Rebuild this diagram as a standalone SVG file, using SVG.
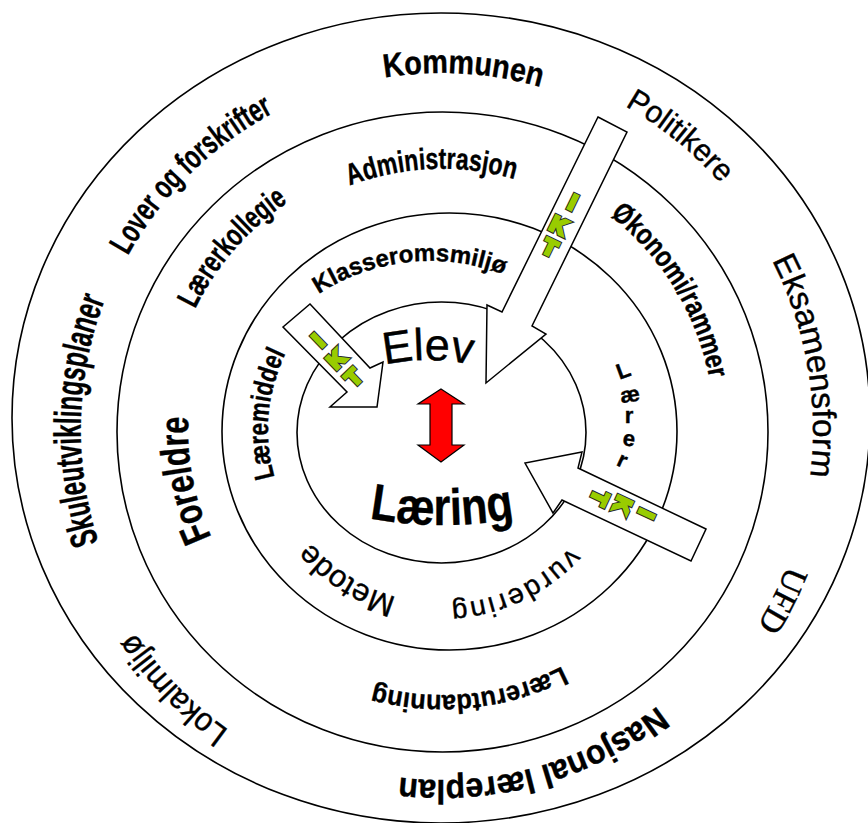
<svg xmlns="http://www.w3.org/2000/svg" xmlns:xlink="http://www.w3.org/1999/xlink" width="868" height="823" viewBox="0 0 868 823">
  <style>
    .ring{fill:none;stroke:#000;stroke-width:1.6}
    .t{font-family:"Liberation Sans",Arial,sans-serif;fill:#000;stroke:#000;stroke-width:0.4;text-anchor:middle}
    .b{font-weight:bold}
    .serif{font-family:"Liberation Serif","Times New Roman",serif}
    .blk{fill:#fff;stroke:#000;stroke-width:1.5;stroke-linejoin:miter}
    .ikt{font-family:"Liberation Sans",Arial,sans-serif;font-weight:bold;font-size:22px;text-anchor:middle;stroke-linejoin:miter}
    .ikt-o{fill:#2a2a2a;stroke:#2a2a2a;stroke-width:5}
    .ikt-f{fill:#99cc00;stroke:#99cc00;stroke-width:3}
    .ler{font-family:"Liberation Sans",Arial,sans-serif;font-weight:bold;font-size:22px;text-anchor:middle;stroke:#000;stroke-width:0.4}
  </style>
  <defs>
    <!-- baseline arcs for the curved labels (clockwise, tops facing outward) -->
    <path id="p-kommunen" d="M94.7,347.3 A357,357 0 0 1 796.6,389.0"/>
    <path id="p-politikere" d="M197.9,149.3 A372,372 0 0 1 767.4,610.3"/>
    <path id="p-eksamen" d="M442,59 A371,371 0 0 1 568.9,778.6"/>
    <path id="p-ufd" d="M663.2,132.2 A371,371 0 0 1 336.0,785.5"/>
    <path id="p-nasjonal" d="M790.4,396.5 A350,350 0 0 1 126.1,580.7"/>
    <path id="p-lokal" d="M647.8,735.1 A368,368 0 0 1 144.3,213.7"/>
    <path id="p-skule" d="M370.4,784.6 A362,362 0 0 1 389.1,71.9"/>
    <path id="p-lover" d="M146.1,633.3 A359,359 0 0 1 650.5,137.7"/>
    <path id="p-admin" d="M183.3,395.0 A261,261 0 0 1 697.0,374.4"/>
    <path id="p-okonomi" d="M342.7,176.7 A272,272 0 0 1 621.9,634.0"/>
    <path id="p-laerutd" d="M706.4,448.5 A265,265 0 0 1 187.3,503.0"/>
    <path id="p-foreldre" d="M446.4,684.0 A254,254 0 0 1 351.0,192.9"/>
    <path id="p-kollegie" d="M228.3,603.1 A275,275 0 0 1 583.6,194.3"/>
    <path id="p-klasse" d="M226.5,450.8 A204,204 0 0 1 626.1,408.8"/>
    <path id="p-vurdering" d="M609.8,384.1 A174,174 0 0 1 300.0,530.6"/>
    <path id="p-metode" d="M570.0,546.4 A173,173 0 0 1 281.9,364.3"/>
    <path id="p-middel" d="M396.4,597.9 A174,174 0 0 1 427.4,256.6"/>
    <path id="p-elev" d="M228,560 A200,200 0 0 1 628,560"/>
    <path id="p-laering" d="M242,471.4 A400,400 0 0 0 642,471.4"/>
  </defs>

  <rect width="868" height="823" fill="#fff"/>

  <!-- concentric rings -->
  <g id="rings">
    <ellipse class="ring" cx="441" cy="418" rx="429" ry="405"/>
    <ellipse class="ring" cx="442.5" cy="432" rx="325.5" ry="320"/>
    <ellipse class="ring" cx="449.5" cy="431.5" rx="227.5" ry="218.5"/>
    <ellipse class="ring" cx="441.5" cy="432.5" rx="144.5" ry="130.5"/>
  </g>

  <!-- outer ring -->
  <g id="kommunen"><text class="t b" font-size="33"><textPath xlink:href="#p-kommunen" startOffset="50%" textLength="158" lengthAdjust="spacingAndGlyphs">Kommunen</textPath></text></g>
  <g id="politikere"><text class="t" font-size="31"><textPath xlink:href="#p-politikere" startOffset="50%" textLength="124" lengthAdjust="spacingAndGlyphs">Politikere</textPath></text></g>
  <g id="eksamensform"><text class="t" font-size="33"><textPath xlink:href="#p-eksamen" startOffset="50%" textLength="223" lengthAdjust="spacingAndGlyphs">Eksamensform</textPath></text></g>
  <g id="ufd"><text class="t serif" font-size="34"><textPath xlink:href="#p-ufd" startOffset="50%" textLength="68" lengthAdjust="spacingAndGlyphs">UFD</textPath></text></g>
  <g id="nasjonal-laereplan"><text class="t b" font-size="34"><textPath xlink:href="#p-nasjonal" startOffset="50%" textLength="275" lengthAdjust="spacingAndGlyphs">Nasjonal læreplan</textPath></text></g>
  <g id="lokalmiljo"><text class="t" font-size="33"><textPath xlink:href="#p-lokal" startOffset="50%" textLength="137" lengthAdjust="spacingAndGlyphs">Lokalmiljø</textPath></text></g>
  <g id="skuleutviklingsplaner"><text class="t b" font-size="38"><textPath xlink:href="#p-skule" startOffset="50%" textLength="248" lengthAdjust="spacingAndGlyphs">Skuleutviklingsplaner</textPath></text></g>
  <g id="lover-og-forskrifter"><text class="t b" font-size="33"><textPath xlink:href="#p-lover" startOffset="50%" textLength="207" lengthAdjust="spacingAndGlyphs">Lover og forskrifter</textPath></text></g>

  <!-- second ring -->
  <g id="administrasjon"><text class="t b" font-size="30"><textPath xlink:href="#p-admin" startOffset="50%" textLength="168" lengthAdjust="spacingAndGlyphs">Administrasjon</textPath></text></g>
  <g id="okonomi-rammer"><text class="t b" font-size="29"><textPath xlink:href="#p-okonomi" startOffset="50%" textLength="195" lengthAdjust="spacingAndGlyphs">Økonomi/rammer</textPath></text></g>
  <g id="laererutdanning"><text class="t b" font-size="27"><textPath xlink:href="#p-laerutd" startOffset="50%" textLength="194" lengthAdjust="spacingAndGlyphs">Lærerutdanning</textPath></text></g>
  <g id="foreldre"><text class="t b" font-size="40"><textPath xlink:href="#p-foreldre" startOffset="50%" textLength="124" lengthAdjust="spacingAndGlyphs">Foreldre</textPath></text></g>
  <g id="laererkollegie"><text class="t b" font-size="31"><textPath xlink:href="#p-kollegie" startOffset="50%" textLength="143" lengthAdjust="spacingAndGlyphs">Lærerkollegie</textPath></text></g>

  <!-- inner ring -->
  <g id="klasseromsmiljo"><text class="t b" font-size="24"><textPath xlink:href="#p-klasse" startOffset="50%" textLength="193" lengthAdjust="spacing">Klasseromsmiljø</textPath></text></g>
  <g id="vurdering"><text class="t" font-size="28"><textPath xlink:href="#p-vurdering" startOffset="50%" textLength="135" lengthAdjust="spacing">vurdering</textPath></text></g>
  <g id="metode"><text class="t" font-size="31"><textPath xlink:href="#p-metode" startOffset="50%">Metode</textPath></text></g>
  <g id="laeremiddel"><text class="t b" font-size="28"><textPath xlink:href="#p-middel" startOffset="50%" textLength="127" lengthAdjust="spacingAndGlyphs">Læremiddel</textPath></text></g>
  <g id="laerer">
    <text class="ler" transform="translate(623,370) rotate(-20)" y="8">L</text>
    <text class="ler" transform="translate(630,396) rotate(-8)" y="6">æ</text>
    <text class="ler" transform="translate(629,417) rotate(0)" y="6">r</text>
    <text class="ler" transform="translate(629,440) rotate(8)" y="6">e</text>
    <text class="ler" transform="translate(622,461) rotate(25)" y="6">r</text>
  </g>

  <!-- centre -->
  <g id="elev"><text class="t" font-size="45"><textPath xlink:href="#p-elev" startOffset="50%">Elev</textPath></text></g>
  <g id="laering"><text class="t b" font-size="51"><textPath xlink:href="#p-laering" startOffset="50%" textLength="146" lengthAdjust="spacingAndGlyphs">Læring</textPath></text></g>

  <!-- connectors: block arrows carrying IKT, and the two-way arrow between Elev and Læring -->
  <g id="connectors">
    <g id="arrow-politikere">
      <polygon class="blk" points="598,117 627,132 532,326 546,334 486,383 487,305 502,312"/>
      <g class="ikt">
        <text class="ikt-o" transform="translate(573,202) rotate(26)" y="8">I</text>
        <text class="ikt-o" transform="translate(559,225) rotate(26)" y="8">K</text>
        <text class="ikt-o" transform="translate(550,247) rotate(26)" y="8">T</text>
        <text class="ikt-f" transform="translate(573,202) rotate(26)" y="8">I</text>
        <text class="ikt-f" transform="translate(559,225) rotate(26)" y="8">K</text>
        <text class="ikt-f" transform="translate(550,247) rotate(26)" y="8">T</text>
      </g>
    </g>
    <g id="arrow-laeremiddel">
      <polygon class="blk" points="310,304 370,368 383,362 377,407 330,407 347,392 283,327"/>
      <g class="ikt">
        <text class="ikt-o" transform="translate(318,340) rotate(-44)" y="8">I</text>
        <text class="ikt-o" transform="translate(336,359) rotate(-44)" y="8">K</text>
        <text class="ikt-o" transform="translate(353,377) rotate(-44)" y="8">T</text>
        <text class="ikt-f" transform="translate(318,340) rotate(-44)" y="8">I</text>
        <text class="ikt-f" transform="translate(336,359) rotate(-44)" y="8">K</text>
        <text class="ikt-f" transform="translate(353,377) rotate(-44)" y="8">T</text>
      </g>
    </g>
    <g id="arrow-laerer">
      <polygon class="blk" points="706,529 578,468 582,452 525,463 553,513 562,500 691,561"/>
      <g class="ikt">
        <text class="ikt-o" transform="translate(647,514) rotate(115)" y="8">I</text>
        <text class="ikt-o" transform="translate(623,505) rotate(115)" y="8">K</text>
        <text class="ikt-o" transform="translate(600,498) rotate(115)" y="8">T</text>
        <text class="ikt-f" transform="translate(647,514) rotate(115)" y="8">I</text>
        <text class="ikt-f" transform="translate(623,505) rotate(115)" y="8">K</text>
        <text class="ikt-f" transform="translate(600,498) rotate(115)" y="8">T</text>
      </g>
    </g>
    <polygon id="arrow-elev-laering" points="441,389 464,404 452,404 452,445 464,445 441,462 418,445 430,445 430,404 418,404" fill="#ff0000" stroke="#000" stroke-width="1.2"/>
  </g>
</svg>
